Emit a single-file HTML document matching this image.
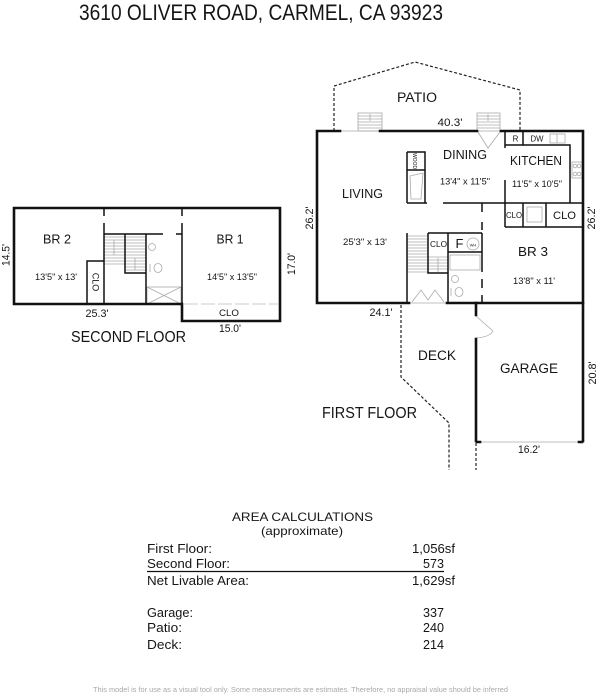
<!DOCTYPE html>
<html><head><meta charset="utf-8"><style>
html,body{margin:0;padding:0;background:#fff;}
svg{display:block;}
text{font-family:"Liberation Sans",Arial,sans-serif;fill:#151515;}
</style></head><body>
<svg width="600" height="696" viewBox="0 0 600 696" xmlns="http://www.w3.org/2000/svg">
<rect width="600" height="696" fill="#fff"/>

<!-- Title -->
<text x="79" y="20" font-size="22" textLength="364" lengthAdjust="spacingAndGlyphs">3610 OLIVER ROAD, CARMEL, CA 93923</text>

<!-- ============ SECOND FLOOR ============ -->
<!-- fixtures (gray) -->
<g stroke="#aaa" stroke-width="0.8" fill="none">
  <path d="M104,237H125M104,240H125M104,243H125M104,246H125M104,249H125M104,252H125M104,255H125M104,258H125M104,261H125M104,264H125"/>
  <path d="M125,237H146M125,240H146M125,243H146M125,246H146M125,249H146M125,252H146M125,255H146M125,258H146M125,261H146M125,264H146M125,267H146M125,270H146"/>
  <path d="M114,240V255M135,258V270"/>
  <circle cx="152" cy="247" r="3.5"/>
  <ellipse cx="158" cy="268" rx="4" ry="4.5"/>
  <path d="M150,264V272"/>
  <rect x="147" y="287" width="34" height="17"/>
  <path d="M147,287L181,304M181,287L147,304"/>
  <path d="M184,304H278" stroke-dasharray="14,3" stroke="#bbb"/>
</g>
<!-- exterior walls -->
<g stroke="#111" stroke-width="2.6" fill="none" stroke-linecap="square">
  <path d="M14,304V208H280V321H182V304H14"/>
</g>
<!-- interior walls -->
<g stroke="#111" stroke-width="1.5" fill="none">
  <path d="M104,208V216M104,223V304"/>
  <path d="M182,208V216M182,223V304"/>
  <path d="M104,234H163M176,234H182"/>
  <path d="M125,234V273H146"/>
  <path d="M146,234V304"/>
  <path d="M87,304V261H104"/>
</g>
<!-- labels -->
<text x="57" y="243.5" font-size="12.5" text-anchor="middle" textLength="28" lengthAdjust="spacingAndGlyphs">BR 2</text>
<text x="56" y="280" font-size="9" text-anchor="middle" textLength="42" lengthAdjust="spacingAndGlyphs">13'5" x 13'</text>
<text x="230" y="243.5" font-size="12.5" text-anchor="middle" textLength="27" lengthAdjust="spacingAndGlyphs">BR 1</text>
<text x="232" y="280" font-size="9" text-anchor="middle" textLength="50" lengthAdjust="spacingAndGlyphs">14'5" x 13'5"</text>
<text transform="translate(92.5,282) rotate(90)" font-size="9" text-anchor="middle">CLO</text>
<text transform="translate(9.5,255) rotate(-90)" font-size="11" text-anchor="middle" textLength="22" lengthAdjust="spacingAndGlyphs">14.5'</text>
<text transform="translate(295,264) rotate(-90)" font-size="11" text-anchor="middle" textLength="22" lengthAdjust="spacingAndGlyphs">17.0'</text>
<text x="97" y="317" font-size="11" text-anchor="middle" textLength="23" lengthAdjust="spacingAndGlyphs">25.3'</text>
<text x="229" y="316" font-size="9.5" text-anchor="middle" textLength="20" lengthAdjust="spacingAndGlyphs">CLO</text>
<text x="230" y="332" font-size="11" text-anchor="middle" textLength="22" lengthAdjust="spacingAndGlyphs">15.0'</text>
<text x="71" y="342" font-size="15.5" textLength="115" lengthAdjust="spacingAndGlyphs">SECOND FLOOR</text>

<!-- ============ FIRST FLOOR ============ -->
<!-- dashed patio / deck -->
<g stroke="#222" stroke-width="1.2" fill="none" stroke-dasharray="3,2">
  <path d="M334,131V86L415,62L520,90V131"/>
  <path d="M401,305V377L449,423V470"/>
  <path d="M476,443V470"/>
</g>
<!-- fixtures gray -->
<g stroke="#aaa" stroke-width="0.8" fill="none">
  <!-- patio steps -->
  <rect x="358" y="113" width="24" height="18"/>
  <path d="M358,116H382M358,119H382M358,122H382M358,125H382M358,128H382M370,114V121"/>
  <rect x="477" y="113" width="23" height="18"/>
  <path d="M477,116H500M477,119H500M477,122H500M477,125H500M477,128H500M488,114V121"/>
  <path d="M340,131H379"/>
  <path d="M478,132L488,148L500,132"/>
  <!-- kitchen -->
  <rect x="550" y="134" width="15" height="9"/>
  <path d="M557,134V143"/>
  <rect x="572" y="162" width="10" height="16"/>
  <circle cx="575" cy="166" r="1.8"/><circle cx="579" cy="166" r="1.8"/>
  <circle cx="575" cy="174" r="1.8"/><circle cx="579" cy="174" r="1.8"/>
  <rect x="527" y="207" width="15" height="15"/>
  <!-- fireplace -->
  <path d="M410,176L423,173L421,199L411,199Z"/>
  <!-- stairs -->
  <path d="M407,236H428M407,239H428M407,242H428M407,245H428M407,248H428M407,251H428M407,254H428M407,257H428M407,260H428M407,263H428M407,266H428M407,269H428M407,272H428"/>
  <path d="M428,257H448M428,260H448M428,263H448M428,266H448M428,269H448M438,258V272"/>
  <path d="M410,303H446"/>
  <path d="M412,302L421,290L428,300L435,290L444,302"/>
  <!-- bath -->
  <rect x="450" y="255" width="30" height="15"/>
  <circle cx="473" cy="244" r="6"/>
  <circle cx="455" cy="279" r="3.5"/>
  <ellipse cx="459" cy="292" rx="4" ry="4.5"/>
  <path d="M451,288V296"/>
  <!-- garage -->
  <path d="M476,442H583"/>
  <path d="M476,316L493,331"/>
  <path d="M493,331Q490,337 476,338"/>
</g>
<!-- exterior walls -->
<g stroke="#111" stroke-width="2.6" fill="none" stroke-linecap="square">
  <path d="M340,131H317V303H409"/>
  <path d="M380,131H477"/>
  <path d="M501,131H583V441"/>
  <path d="M447,303H583"/>
  <path d="M476,303V315M476,339V441"/>
  <path d="M477,442H480M579,442H582"/>
</g>
<!-- interior walls -->
<g stroke="#111" stroke-width="1.5" fill="none">
  <path d="M505,131V148M505,180V227"/>
  <path d="M505,145H523V131"/>
  <path d="M523,145H570V203"/>
  <path d="M443,203H583"/>
  <path d="M407,152H425V203M407,152V203M407,170H425M407,203H427"/>
  <path d="M523,203V227M546,203V227M505,227H583"/>
  <path d="M482,203V212M482,222V230M482,233V272M482,279V288M482,295V303"/>
  <path d="M407,233V303"/>
  <path d="M428,233H482"/>
  <path d="M428,233V273H448"/>
  <path d="M448,233V303"/>
  <path d="M448,252H482"/>
</g>
<!-- labels -->
<text x="397" y="102" font-size="13.5" textLength="40" lengthAdjust="spacingAndGlyphs">PATIO</text>
<text x="450" y="126" font-size="11" text-anchor="middle" textLength="25" lengthAdjust="spacingAndGlyphs">40.3'</text>
<text x="515.5" y="141.5" font-size="8" text-anchor="middle">R</text>
<text x="537" y="141.5" font-size="8" text-anchor="middle" textLength="13" lengthAdjust="spacingAndGlyphs">DW</text>
<text x="443" y="159" font-size="12.5" textLength="44" lengthAdjust="spacingAndGlyphs">DINING</text>
<text x="440" y="184.5" font-size="9" textLength="50" lengthAdjust="spacingAndGlyphs">13'4" x 11'5"</text>
<text x="510" y="165" font-size="12.5" textLength="52" lengthAdjust="spacingAndGlyphs">KITCHEN</text>
<text x="512" y="187" font-size="9" textLength="50" lengthAdjust="spacingAndGlyphs">11'5" x 10'5"</text>
<text transform="translate(413,161) rotate(90)" font-size="5" text-anchor="middle">WOOD</text>
<text x="342" y="198" font-size="12.5" textLength="41" lengthAdjust="spacingAndGlyphs">LIVING</text>
<text x="343" y="245" font-size="9" textLength="44" lengthAdjust="spacingAndGlyphs">25'3" x 13'</text>
<text x="514" y="218" font-size="8" text-anchor="middle" textLength="16" lengthAdjust="spacingAndGlyphs">CLO</text>
<text x="564.5" y="219" font-size="11" text-anchor="middle" textLength="23" lengthAdjust="spacingAndGlyphs">CLO</text>
<text x="438.5" y="247" font-size="8.5" text-anchor="middle" textLength="17" lengthAdjust="spacingAndGlyphs">CLO</text>
<text x="459.5" y="248" font-size="13" text-anchor="middle">F</text>
<text x="473" y="246.5" font-size="4" text-anchor="middle">WH</text>
<text x="518" y="256" font-size="12.5" textLength="30" lengthAdjust="spacingAndGlyphs">BR 3</text>
<text x="513" y="284" font-size="9" textLength="42" lengthAdjust="spacingAndGlyphs">13'8" x 11'</text>
<text transform="translate(313,218) rotate(-90)" font-size="11" text-anchor="middle" textLength="23" lengthAdjust="spacingAndGlyphs">26.2'</text>
<text transform="translate(595,218) rotate(-90)" font-size="11" text-anchor="middle" textLength="23" lengthAdjust="spacingAndGlyphs">26.2'</text>
<text x="381" y="316" font-size="11" text-anchor="middle" textLength="23" lengthAdjust="spacingAndGlyphs">24.1'</text>
<text x="418" y="360" font-size="13.5" textLength="38" lengthAdjust="spacingAndGlyphs">DECK</text>
<text x="500" y="373" font-size="13.5" textLength="58" lengthAdjust="spacingAndGlyphs">GARAGE</text>
<text transform="translate(596,373) rotate(-90)" font-size="11" text-anchor="middle" textLength="23" lengthAdjust="spacingAndGlyphs">20.8'</text>
<text x="529" y="453" font-size="11" text-anchor="middle" textLength="22" lengthAdjust="spacingAndGlyphs">16.2'</text>
<text x="322" y="418" font-size="15.5" textLength="95" lengthAdjust="spacingAndGlyphs">FIRST FLOOR</text>

<!-- ============ AREA CALCULATIONS ============ -->
<text x="232" y="521" font-size="12" textLength="141" lengthAdjust="spacingAndGlyphs">AREA CALCULATIONS</text>
<text x="261" y="535" font-size="12" textLength="82" lengthAdjust="spacingAndGlyphs">(approximate)</text>
<g font-size="12.5">
  <text x="147" y="553" textLength="65" lengthAdjust="spacingAndGlyphs">First Floor:</text>
  <text x="455" y="553" text-anchor="end" textLength="43" lengthAdjust="spacingAndGlyphs">1,056sf</text>
  <text x="147" y="568" textLength="83" lengthAdjust="spacingAndGlyphs">Second Floor:</text>
  <text x="444" y="568" text-anchor="end" textLength="21" lengthAdjust="spacingAndGlyphs">573</text>
  <text x="147" y="585" textLength="102" lengthAdjust="spacingAndGlyphs">Net Livable Area:</text>
  <text x="455" y="585" text-anchor="end" textLength="43" lengthAdjust="spacingAndGlyphs">1,629sf</text>
  <text x="147" y="617" textLength="46" lengthAdjust="spacingAndGlyphs">Garage:</text>
  <text x="444" y="617" text-anchor="end" textLength="21" lengthAdjust="spacingAndGlyphs">337</text>
  <text x="147" y="632" textLength="35" lengthAdjust="spacingAndGlyphs">Patio:</text>
  <text x="444" y="632" text-anchor="end" textLength="21" lengthAdjust="spacingAndGlyphs">240</text>
  <text x="147" y="649" textLength="35" lengthAdjust="spacingAndGlyphs">Deck:</text>
  <text x="444" y="649" text-anchor="end" textLength="21" lengthAdjust="spacingAndGlyphs">214</text>
</g>
<line x1="147" y1="571.5" x2="444" y2="571.5" stroke="#111" stroke-width="1.3"/>

<!-- Footer -->
<text x="93" y="692" font-size="7.5" fill="#a8a8a8" style="fill:#a8a8a8" textLength="415" lengthAdjust="spacingAndGlyphs">This model is for use as a visual tool only. Some measurements are estimates. Therefore, no appraisal value should be inferred</text>
</svg>
</body></html>
